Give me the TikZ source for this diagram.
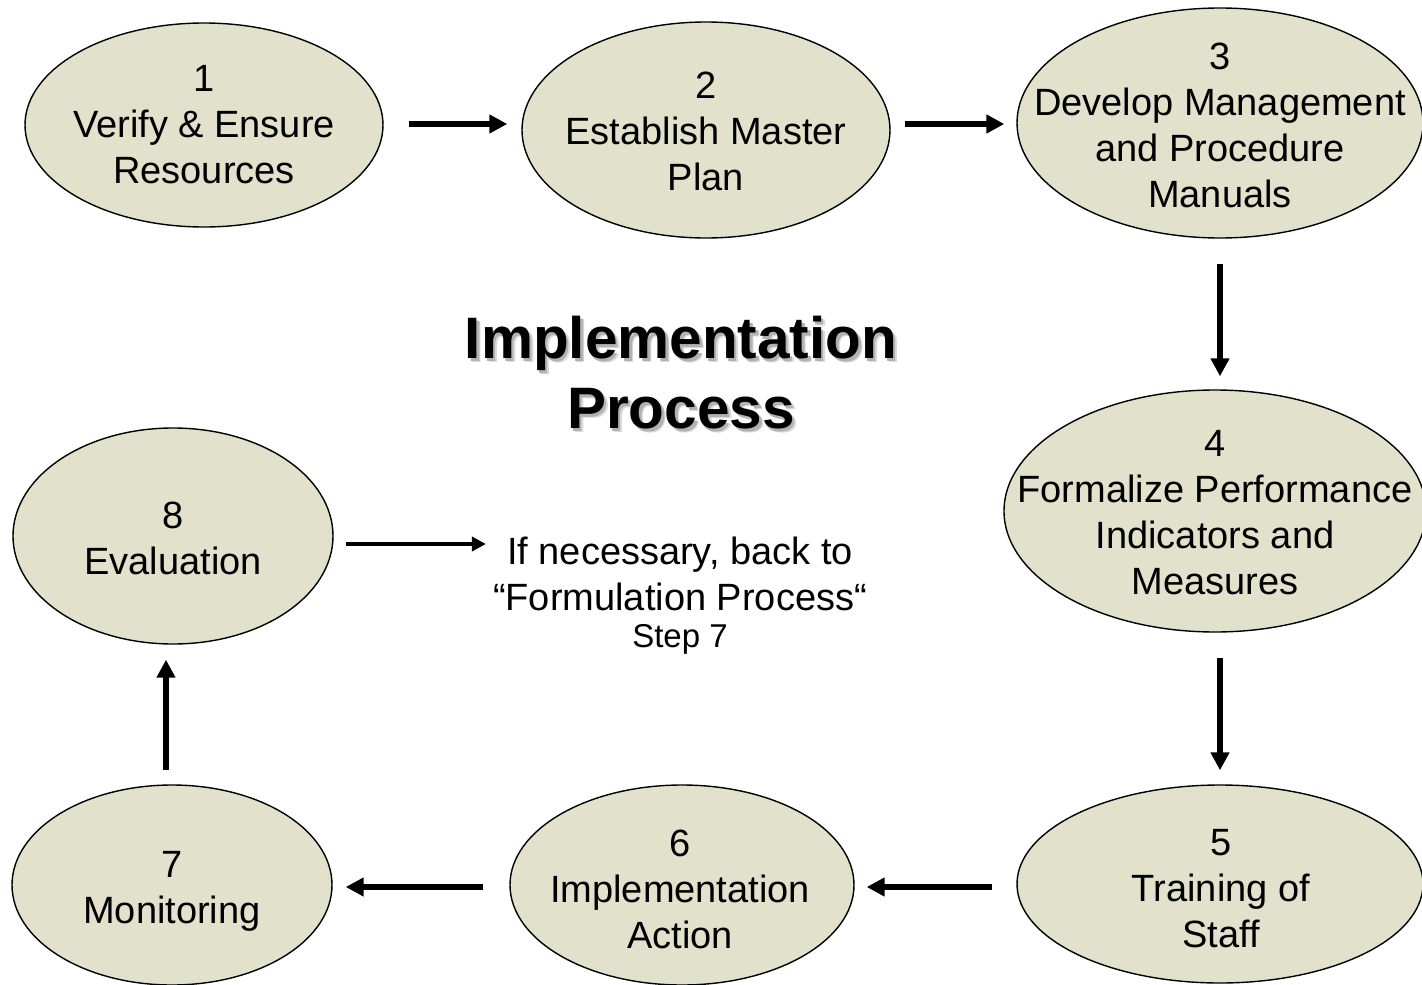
\documentclass[tikz,border=0pt]{standalone}
\usepackage{fontspec}
\setmainfont{Liberation Sans}
\usetikzlibrary{shapes.geometric,arrows.meta,calc}
\definecolor{stagefill}{RGB}{226,225,204}
\begin{document}
\begin{tikzpicture}[x=1pt,y=-1pt,
  stage/.style={ellipse, draw=black, line width=1.4pt, fill=stagefill, inner sep=0pt},
  lbl/.style={align=center, inner sep=0pt, font=\fontsize{38}{46}\selectfont},
  ttl/.style={align=center, inner sep=0pt, font=\fontsize{58.5}{70}\selectfont\bfseries},
  arr/.style={line width=5.5pt, -{Triangle[length=18pt,width=18pt]}},
  thinarr/.style={line width=3.5pt, -{Triangle[length=14pt,width=14pt]}}]
\clip (0,0) rectangle (1422,985);
\fill[white] (0,0) rectangle (1422,985);
% stages
\node[stage, minimum width=358pt, minimum height=204pt] (e1) at (204,125) {};
\node[stage, minimum width=368pt, minimum height=216pt] (e2) at (706,130) {};
\node[stage, minimum width=406pt, minimum height=230pt] (e3) at (1220,123) {};
\node[stage, minimum width=422pt, minimum height=242pt] (e4) at (1215,511) {};
\node[stage, minimum width=406pt, minimum height=198pt] (e5) at (1220,884) {};
\node[stage, minimum width=344pt, minimum height=200pt] (e6) at (682,885) {};
\node[stage, minimum width=320pt, minimum height=200pt] (e7) at (172,885) {};
\node[stage, minimum width=320pt, minimum height=216pt] (e8) at (173,536) {};
% labels
\node[lbl] (t1) at (e1.center) {1\\Verify \& Ensure\\Resources};
\node[lbl] (t2) at ($(e2.center)+(0,1)$) {2\\Establish Master\\Plan};
\node[lbl] (t3) at ($(e3.center)+(0,2)$) {3\\Develop Management\\and Procedure\\Manuals};
\node[lbl] (t4) at ($(e4.center)+(0,2)$) {4\\Formalize Performance\\Indicators and\\Measures};
\node[lbl] (t5) at ($(e5.center)+(1,5)$) {5\\Training of\\Staff};
\node[lbl] (t6) at ($(e6.center)+(-2,4)$) {6\\Implementation\\Action};
\node[lbl] (t7) at ($(e7.center)+(0,6)$) {7\\Monitoring};
\node[lbl] (t8) at ($(e8.center)+(0,2)$) {8\\Evaluation};
% title with soft shadow
\node[ttl, text=black!14] (titleshadow2) at (685,377) {Implementation\\Process};
\node[ttl, text=black!30] (titleshadow) at (683.5,375.5) {Implementation\\Process};
\node[ttl] (title) at (681,373) {Implementation\\Process};
% note
\node[lbl] (note) at (680,574) {If necessary, back to\\“Formulation Process“};
\node[inner sep=0pt, font=\fontsize{33}{40}\selectfont] (step) at (680,639) {Step 7};
% connectors
\draw[arr] ($(e1.east)+(25,-1)$) -- ($(e2.west)+(-14,-6)$);
\draw[arr] ($(e2.east)+(14,-6)$) -- ($(e3.west)+(-12,1)$);
\draw[arr] ($(e3.south)+(0,25)$) -- ($(e4.north)+(5,-13)$);
\draw[arr] ($(e4.south)+(5,25)$) -- ($(e5.north)+(0,-14)$);
\draw[arr] ($(e5.west)+(-24,3)$) -- ($(e6.east)+(12,2)$);
\draw[arr] ($(e6.west)+(-26,2)$) -- ($(e7.east)+(13,2)$);
\draw[arr] ($(e7.north)+(-6,-14)$) -- ($(e8.south)+(-7,15)$);
\draw[thinarr] ($(e8.east)+(12,8)$) -- ($(note.west |- e8.east)+(-7,8)$);
\end{tikzpicture}
\end{document}
